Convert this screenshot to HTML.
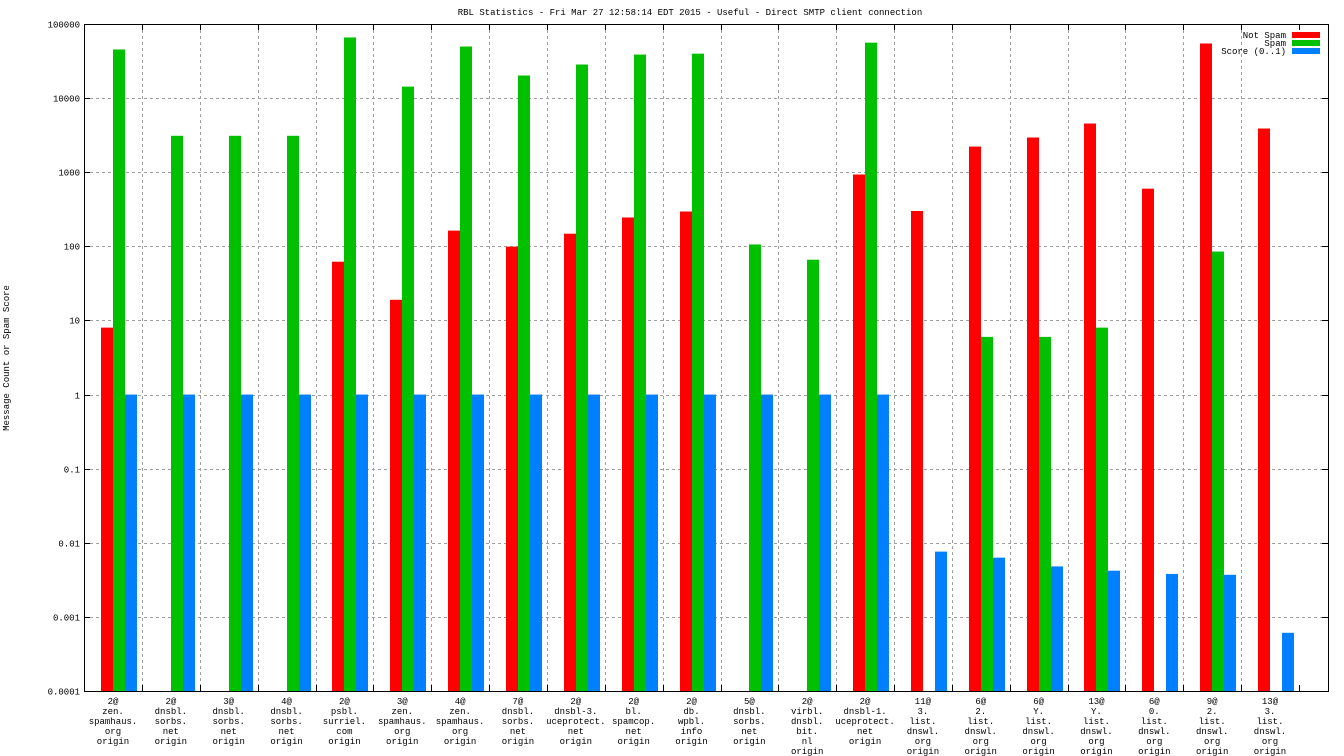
<!DOCTYPE html>
<html><head><meta charset="utf-8"><style>
html,body{margin:0;padding:0;background:#fff;}
svg{display:block;font-family:"Liberation Mono","DejaVu Sans Mono",monospace;}
</style></head><body>
<svg id="chart" width="1344" height="756" xmlns="http://www.w3.org/2000/svg">
<rect x="0" y="0" width="1344" height="756" fill="#fff"/>
<text x="690" y="15" font-size="9" text-anchor="middle">RBL Statistics - Fri Mar 27 12:58:14 EDT 2015 - Useful - Direct SMTP client connection</text>
<text transform="translate(9,358) rotate(-90)" font-size="9" text-anchor="middle">Message Count or Spam Score</text>
<g id="grid"></g><g id="bars"></g><g id="axes"></g><g id="labels"></g>
<g>
<text x="1286" y="38" font-size="9" text-anchor="end">Not Spam</text>
<rect x="1292" y="32" width="28" height="6" fill="#ff0000"/>
<text x="1286" y="46" font-size="9" text-anchor="end">Spam</text>
<rect x="1292" y="40" width="28" height="6" fill="#00c000"/>
<text x="1286" y="54" font-size="9" text-anchor="end">Score (0..1)</text>
<rect x="1292" y="48" width="28" height="6" fill="#0080ff"/>
</g>
</svg>
<script>
const categories = [
["2@","zen.","spamhaus.","org","origin"],["2@","dnsbl.","sorbs.","net","origin"],["3@","dnsbl.","sorbs.","net","origin"],["4@","dnsbl.","sorbs.","net","origin"],["2@","psbl.","surriel.","com","origin"],["3@","zen.","spamhaus.","org","origin"],["4@","zen.","spamhaus.","org","origin"],["7@","dnsbl.","sorbs.","net","origin"],["2@","dnsbl-3.","uceprotect.","net","origin"],["2@","bl.","spamcop.","net","origin"],["2@","db.","wpbl.","info","origin"],["5@","dnsbl.","sorbs.","net","origin"],["2@","virbl.","dnsbl.","bit.","nl","origin"],["2@","dnsbl-1.","uceprotect.","net","origin"],["11@","3.","list.","dnswl.","org","origin"],["6@","2.","list.","dnswl.","org","origin"],["6@","Y.","list.","dnswl.","org","origin"],["13@","Y.","list.","dnswl.","org","origin"],["6@","0.","list.","dnswl.","org","origin"],["9@","2.","list.","dnswl.","org","origin"],["13@","3.","list.","dnswl.","org","origin"]];
const notSpam = [8,null,null,null,62,19,163,99,148,245,295,null,null,931,300,2220,2940,4540,600,54600,3890];
const spam = [45300,3100,3100,3100,65800,14300,49700,20200,28400,38700,39800,106,66,56000,null,6,6,8,null,85,null];
const score = [1,1,1,1,1,1,1,1,1,1,1,1,1,1,0.0076,0.0063,0.0048,0.0042,0.0038,0.0037,0.00061];
const yTicks = [100000,10000,1000,100,10,1,0.1,0.01,0.001,0.0001];
const yTickLabels = ["100000","10000","1000","100","10","1","0.1","0.01","0.001","0.0001"];

const NS="http://www.w3.org/2000/svg";
const L=84,R=1328,T=24,B=691;
function yScale(v){return B-(Math.log10(v)+4)/9*(B-T);}
function xGroup(i){return 113+i*57.85;}
function mk(tag,attrs,parent){const e=document.createElementNS(NS,tag);for(const k in attrs)e.setAttribute(k,attrs[k]);parent.appendChild(e);return e;}
const grid=document.getElementById('grid'),bars=document.getElementById('bars'),axes=document.getElementById('axes'),labels=document.getElementById('labels');
yTicks.forEach((v,i)=>{
  const y=Math.round(yScale(v))+0.5;
  if(i>0&&i<yTicks.length-1){const g=mk('line',{x1:L,x2:R,y1:y,y2:y,stroke:'#a0a0a0','stroke-dasharray':'3,3','stroke-width':1},grid);
  }
  mk('line',{x1:L,x2:L+6,y1:y,y2:y,stroke:'#000'},axes);
  mk('line',{x1:R-6,x2:R,y1:y,y2:y,stroke:'#000'},axes);
  const t=mk('text',{x:L-4,y:y+3,'font-size':9,'text-anchor':'end'},axes);t.textContent=yTickLabels[i];
  
  
});
categories.forEach((c,i)=>{
  const cx=xGroup(i);
  const gx=Math.round(cx+29)+0.5;
  if(i<categories.length-1){const g=mk('line',{x1:gx,x2:gx,y1:T,y2:B,stroke:'#a0a0a0','stroke-dasharray':'3,3'},grid);
  }
  mk('line',{x1:gx,x2:gx,y1:B,y2:B-6,stroke:'#000'},axes);
  mk('line',{x1:gx,x2:gx,y1:T,y2:T+6,stroke:'#000'},axes);
  const series=[[notSpam,'#ff0000','bar-not-spam'],[spam,'#00c000','bar-spam'],[score,'#0080ff','bar-score']];
  series.forEach((s,j)=>{
    const v=s[0][i]; if(v==null) return;
    const y=yScale(v);
    const r=mk('rect',{x:Math.round(cx-12+j*12),y:y,width:12,height:B-y,fill:s[1]},bars);
    
    
  });
  const t=mk('text',{x:cx,y:704,'font-size':9,'text-anchor':'middle'},labels);
  
  
  c.forEach((ln,k)=>{const s=mk('tspan',{x:cx,y:704+k*10},t);s.textContent=ln;});
});
mk('rect',{x:L+0.5,y:T+0.5,width:R-L,height:B-T,fill:'none',stroke:'#000','stroke-width':1},axes);
</script>
</body></html>
